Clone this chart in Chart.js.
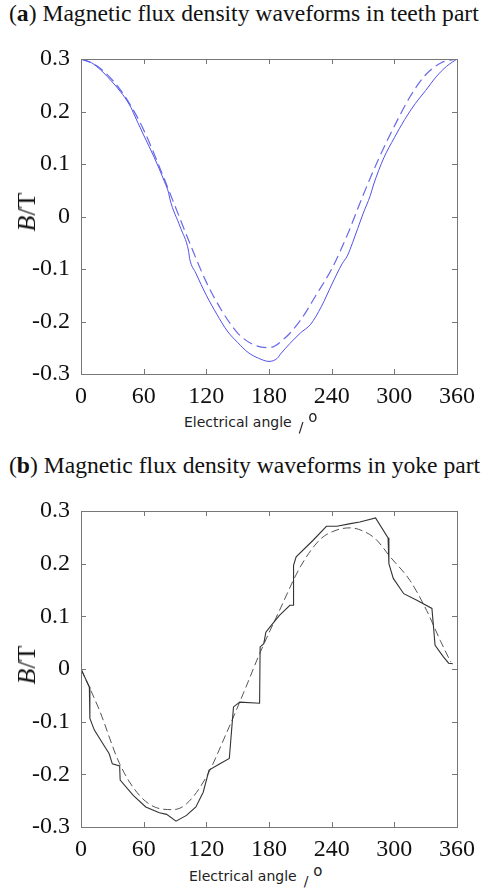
<!DOCTYPE html>
<html>
<head>
<meta charset="utf-8">
<script src="https://cdn.jsdelivr.net/npm/chart.js@4"></script>
<style>
  body { margin: 0; background: #fff; }
  #wrap { position: relative; width: 492px; height: 890px; overflow: hidden; }
  .title { position: absolute; left: 9px; font: 23.6px "Liberation Serif", "Times New Roman", serif; color: #111; white-space: nowrap; }
  .box { position: absolute; left: 0; width: 492px; height: 370px; }
  .xl { position: absolute; font: 14px "DejaVu Sans", Verdana, sans-serif; color: #222; white-space: nowrap; }
  .xl .sl { position: relative; top: 5px; margin-left: 7px; }
  .xl .deg { position: relative; top: -5px; margin-left: 5px; font-size: 15px; }
  .yl { position: absolute; font: 26px "Liberation Serif", "Times New Roman", serif; color: #111; white-space: nowrap; transform: translate(-50%, -50%) rotate(-90deg); }
</style>
</head>
<body>
<div id="wrap">
  <div class="title" style="top:0px">(<b>a</b>) Magnetic flux density waveforms in teeth part</div>
  <div class="box" style="top:40px"><canvas id="teethChart"></canvas></div>
  <div class="yl" style="left:27px;top:212px"><i>B</i>/T</div>
  <div class="xl" style="left:184px;top:413px">Electrical angle<span class="sl">/</span><span class="deg">o</span></div>

  <div class="title" style="top:452px">(<b>b</b>) Magnetic flux density waveforms in yoke part</div>
  <div class="box" style="top:490px"><canvas id="yokeChart"></canvas></div>
  <div class="yl" style="left:27px;top:665px"><i>B</i>/T</div>
  <div class="xl" style="left:189px;top:867px">Electrical angle<span class="sl">/</span><span class="deg">o</span></div>
</div>
<script>
// (a) teeth: simulated waveform (solid) and fitted curve (dashed)
const teethAngle = [0, 10, 20, 30, 40, 48, 50, 60, 70, 80, 84, 85, 95, 103, 104, 110, 120, 130, 140, 150, 160, 170, 180, 188, 191, 200, 210, 220, 230, 240, 250, 255, 260, 270, 277, 280, 290, 300, 310, 320, 330, 340, 350, 360];
const teethB = [0.300, 0.293, 0.277, 0.256, 0.232, 0.207, 0.198, 0.155, 0.113, 0.066, 0.044, 0.034, -0.020, -0.066, -0.080, -0.108, -0.150, -0.186, -0.218, -0.240, -0.259, -0.270, -0.276, -0.270, -0.262, -0.242, -0.222, -0.205, -0.172, -0.130, -0.090, -0.075, -0.050, 0.005, 0.040, 0.060, 0.112, 0.150, 0.185, 0.215, 0.240, 0.266, 0.286, 0.300];
const teethFitAngle = [0, 15, 30, 45, 60, 75, 90, 105, 120, 135, 150, 165, 180, 195, 210, 225, 240, 255, 270, 285, 300, 315, 330, 345, 360];
const teethFitB = [0.300, 0.287, 0.260, 0.220, 0.165, 0.095, 0.020, -0.055, -0.125, -0.180, -0.222, -0.244, -0.250, -0.232, -0.198, -0.150, -0.100, -0.035, 0.040, 0.110, 0.172, 0.228, 0.270, 0.293, 0.300];

// (b) yoke
const yokeAngle = [0, 8, 8.5, 12.8, 21, 27, 30, 37, 37.5, 50, 62, 75, 82, 91, 101, 110, 117, 122.6, 133, 142, 146, 152, 171, 171.5, 175, 177, 181, 190, 200, 203, 203.5, 206, 222, 235, 245, 258, 267, 282, 294, 294.8, 299, 309, 322, 336, 339, 347, 352, 356];
const yokeB = [0, -0.034, -0.094, -0.116, -0.142, -0.161, -0.180, -0.184, -0.211, -0.240, -0.262, -0.273, -0.276, -0.289, -0.278, -0.262, -0.234, -0.192, -0.180, -0.170, -0.072, -0.063, -0.065, 0.042, 0.048, 0.070, 0.080, 0.102, 0.121, 0.121, 0.197, 0.213, 0.244, 0.271, 0.271, 0.276, 0.279, 0.287, 0.249, 0.200, 0.172, 0.143, 0.130, 0.115, 0.045, 0.023, 0.011, 0.010];
const yokeFitAngle = [0, 17.6, 37, 56, 75, 88, 101, 120, 139, 158, 171, 190, 210, 229, 245, 258, 270, 282, 296, 315, 331, 344, 354];
const yokeFitB = [0, -0.078, -0.180, -0.240, -0.265, -0.267, -0.256, -0.205, -0.123, -0.034, 0.029, 0.111, 0.194, 0.246, 0.264, 0.268, 0.262, 0.247, 0.213, 0.168, 0.111, 0.054, 0.013];

const xTicks = [0, 60, 120, 180, 240, 300, 360];

function toPoints(xs, ys) {
    return xs.map((x, i) => ({ x: x, y: ys[i] }));
}

// MATLAB-like frame with inward ticks on all four sides
const framePlugin = {
    id: "frame",
    afterDraw(chart) {
        const { ctx, chartArea: a, scales } = chart;
        const len = 5;
        ctx.save();
        ctx.strokeStyle = "#777";
        ctx.lineWidth = 1;
        ctx.strokeRect(a.left + 0.5, a.top + 0.5, a.right - a.left, a.bottom - a.top);
        ctx.beginPath();
        scales.x.ticks.forEach(t => {
            const px = Math.round(scales.x.getPixelForValue(t.value)) + 0.5;
            ctx.moveTo(px, a.bottom); ctx.lineTo(px, a.bottom - len);
            ctx.moveTo(px, a.top); ctx.lineTo(px, a.top + len);
        });
        scales.y.ticks.forEach(t => {
            const py = Math.round(scales.y.getPixelForValue(t.value)) + 0.5;
            ctx.moveTo(a.left, py); ctx.lineTo(a.left + len, py);
            ctx.moveTo(a.right, py); ctx.lineTo(a.right - len, py);
        });
        ctx.stroke();
        ctx.restore();
    }
};

function makeChart(id, datasets, padTop, xHeight) {
    const tickFont = { family: "'Liberation Serif', 'Times New Roman', serif", size: 24 };
    return new Chart(document.getElementById(id), {
        type: "line",
        data: { datasets: datasets },
        options: {
            responsive: true,
            maintainAspectRatio: false,
            animation: false,
            layout: { padding: { left: 0, right: 35, top: padTop, bottom: 0 } },
            plugins: { legend: { display: false }, tooltip: { enabled: false } },
            elements: { point: { radius: 0 } },
            scales: {
                x: {
                    type: "linear",
                    min: 0,
                    max: 360,
                    afterBuildTicks: s => { s.ticks = xTicks.map(v => ({ value: v })); },
                    afterFit: s => { s.height = xHeight; },
                    grid: { display: false },
                    border: { display: false },
                    ticks: { font: tickFont, color: "#111", padding: 0, maxRotation: 0 }
                },
                y: {
                    min: -0.3,
                    max: 0.3,
                    afterFit: s => { s.width = 81; },
                    grid: { display: false },
                    border: { display: false },
                    ticks: {
                        stepSize: 0.1,
                        font: tickFont,
                        color: "#111",
                        padding: 3,
                        callback: v => Math.abs(v) < 1e-9 ? "0" : v.toFixed(1)
                    }
                }
            }
        },
        plugins: [framePlugin]
    });
}

makeChart("teethChart", [
    {
        data: toPoints(teethAngle, teethB),
        borderColor: "rgb(80,80,235)",
        borderWidth: 1,
        cubicInterpolationMode: "monotone"
    },
    {
        data: toPoints(teethFitAngle, teethFitB),
        borderColor: "rgb(105,105,235)",
        borderWidth: 1.2,
        borderDash: [10, 5],
        cubicInterpolationMode: "monotone"
    }
], 19, 36);

makeChart("yokeChart", [
    {
        data: toPoints(yokeAngle, yokeB),
        borderColor: "#333",
        borderWidth: 1.1,
        tension: 0
    },
    {
        data: toPoints(yokeFitAngle, yokeFitB),
        borderColor: "#555",
        borderWidth: 1,
        borderDash: [8, 4],
        cubicInterpolationMode: "monotone"
    }
], 21, 33);
</script>
</body>
</html>
